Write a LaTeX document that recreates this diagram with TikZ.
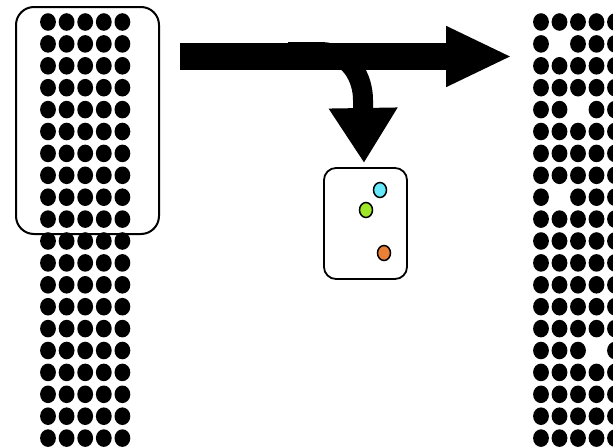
\documentclass[tikz,border=0pt]{standalone}
\usetikzlibrary{arrows.meta}
\definecolor{dotcyan}{RGB}{100,232,250}
\definecolor{dotgreen}{RGB}{160,230,40}
\definecolor{dotorange}{RGB}{232,128,56}
\tikzset{
  blackdot/.style={fill=black},
  roundbox/.style={draw=black, line width=2pt, rounded corners=18pt, inner sep=0pt},
  smallbox/.style={draw=black, line width=1.8pt, rounded corners=12pt, inner sep=0pt},
  colordot/.style={draw=black, line width=1.5pt},
  bigarrow/.style={line width=27pt, -{Triangle[length=66pt 0 0, width=56pt 0 0]}},
  branch/.style={line width=20pt, -{Triangle[length=55pt 0 0, width=65pt 0 0]}}
}
\begin{document}
\begin{tikzpicture}[x=1pt,y=-1pt]
\useasboundingbox (0,0) rectangle (613,447);
\clip (0,0) rectangle (613,447);
% left column of dots
\foreach \r in {0,...,19}{
  \foreach \c in {0,...,4}{
    \fill[blackdot] (48+18.6*\c, 22+21.9*\r) ellipse [x radius=7.9pt, y radius=8.8pt];
  }
}
% right column of dots with gaps
\foreach \r in {1,...,20}{
  \foreach \c in {1,...,5}{
    \pgfmathtruncatemacro\gapdot{(\r==2&&\c==2)||(\r==5&&\c==3)||(\r==9&&\c==2)||(\r==16&&\c==4)}
    \ifnum\gapdot=0
      \fill[blackdot] (541+18.5*\c-18.5, 22+21.9*\r-21.9) ellipse [x radius=7.9pt, y radius=8.8pt];
    \fi
  }
}
% boxes
\node[roundbox, minimum width=143pt, minimum height=227pt] (bigbox) at (87.5,120.5) {};
\node[smallbox, minimum width=83pt, minimum height=111pt] (sbox) at (365.5,223.5) {};
% coloured dots
\draw[colordot, fill=dotcyan] (380,190) ellipse [x radius=6.5pt, y radius=7.5pt];
\draw[colordot, fill=dotgreen] (366,210) ellipse [x radius=6.5pt, y radius=7.5pt];
\draw[colordot, fill=dotorange] (384,253) ellipse [x radius=6.5pt, y radius=7.5pt];
% arrows
\coordinate (m0) at (180,56.5);
\coordinate (m1) at (512,56.5);
\draw[bigarrow] (m0) -- (m1);
\coordinate (s0) at (288,52);
\coordinate (s1) at (364,163);
\draw[branch] (s0) -- (320,52) .. controls (350,52) and (363,78) .. (363,100) -- (s1);
\end{tikzpicture}
\end{document}
